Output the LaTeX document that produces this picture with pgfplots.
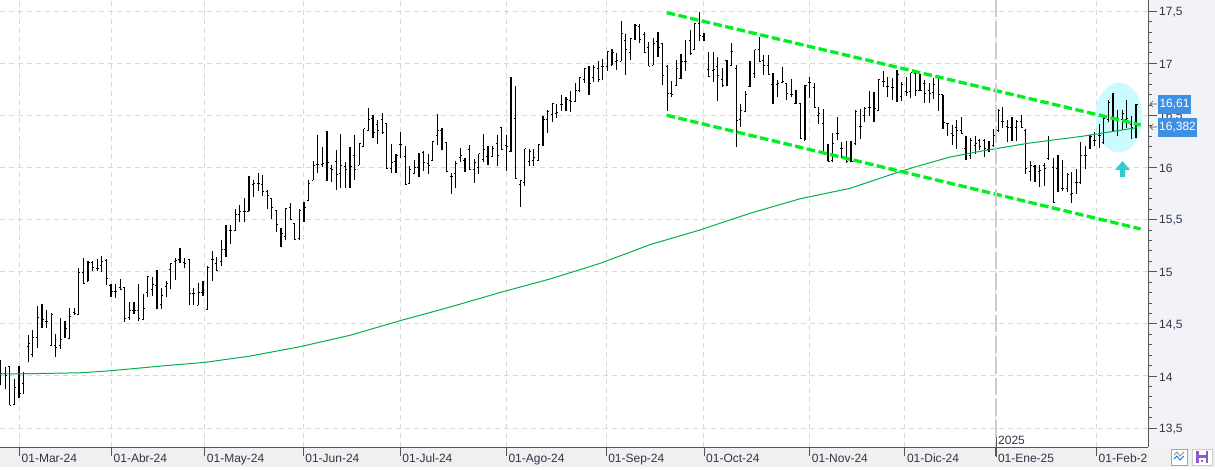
\documentclass[border=0pt]{standalone}
\usepackage{fontspec}
\setmainfont{Liberation Sans}
\usepackage{pgfplots}
\usepackage{pgfplotstable}
\pgfplotsset{compat=1.18}
\definecolor{gridc}{HTML}{D9D9D9}
\definecolor{panelr}{HTML}{F2F3F7}
\definecolor{panelb}{HTML}{F0F0F0}
\definecolor{axisc}{HTML}{555555}
\definecolor{textc}{HTML}{33334A}
\definecolor{channel}{HTML}{00EE22}
\definecolor{avg}{HTML}{00B050}
\definecolor{halo}{HTML}{CCFBFF}
\definecolor{uparrow}{HTML}{33CCCC}
\definecolor{pricebox}{HTML}{3F90E2}
\definecolor{floppy}{HTML}{8A5CC8}

\pgfplotstableread{
i h l o c
0 14.15 13.91 14.10 14.02
1 14.09 13.87 14.02 14.00
2 14.09 13.72 14.09 13.72
3 13.97 13.72 13.73 13.89
4 14.10 13.79 13.92 13.83
5 14.04 13.83 13.93 14.02
6 14.39 14.13 14.28 14.31
7 14.44 14.18 14.21 14.37
8 14.67 14.27 14.37 14.56
9 14.69 14.46 14.63 14.54
10 14.63 14.46 14.52 14.52
11 14.60 14.29 14.29 14.59
12 14.40 14.18 14.29 14.27
13 14.56 14.26 14.29 14.35
14 14.53 14.36 14.44 14.46
15 14.65 14.36 14.36 14.57
16 14.65 14.58 14.61 14.60
17 15.04 14.59 14.59 14.99
18 15.13 14.89 14.99 14.89
19 15.10 14.91 14.91 15.09
20 15.10 15.01 15.09 15.04
21 15.12 15.01 15.03 15.03
22 15.15 15.00 15.06 15.10
23 15.12 14.87 15.11 14.94
24 14.88 14.76 14.87 14.81
25 14.88 14.75 14.81 14.81
26 14.93 14.82 14.85 14.83
27 14.85 14.52 14.85 14.55
28 14.71 14.54 14.56 14.63
29 14.71 14.59 14.63 14.63
30 14.88 14.53 14.63 14.55
31 14.79 14.54 14.54 14.65
32 14.96 14.76 14.80 14.95
33 14.95 14.77 14.83 14.88
34 15.02 14.64 14.87 14.69
35 14.84 14.64 14.69 14.77
36 14.91 14.76 14.86 14.89
37 15.08 14.83 15.02 15.08
38 15.13 14.92 15.10 15.11
39 15.23 15.08 15.12 15.13
40 15.13 15.04 15.09 15.08
41 15.12 14.68 15.12 14.79
42 14.84 14.68 14.79 14.79
43 14.89 14.68 14.68 14.80
44 14.91 14.77 14.80 14.80
45 15.05 14.64 14.64 15.04
46 15.20 14.91 15.12 15.12
47 15.14 15.01 15.08 15.01
48 15.30 15.05 15.10 15.21
49 15.45 15.14 15.21 15.21
50 15.45 15.27 15.40 15.40
51 15.60 15.39 15.40 15.55
52 15.64 15.48 15.55 15.58
53 15.71 15.48 15.58 15.58
54 15.92 15.58 15.58 15.84
55 15.88 15.72 15.84 15.85
56 15.95 15.77 15.85 15.85
57 15.93 15.73 15.84 15.77
58 15.78 15.60 15.77 15.73
59 15.70 15.51 15.70 15.62
60 15.59 15.38 15.59 15.45
61 15.42 15.24 15.37 15.37
62 15.61 15.30 15.34 15.61
63 15.66 15.50 15.62 15.50
64 15.46 15.30 15.46 15.31
65 15.60 15.30 15.32 15.59
66 15.67 15.48 15.60 15.62
67 15.88 15.68 15.68 15.85
68 16.06 15.88 15.88 16.02
69 16.31 15.95 16.03 16.03
70 16.20 16.00 16.03 16.04
71 16.35 15.87 16.30 16.05
72 16.02 15.86 15.99 15.98
73 16.17 15.78 16.06 15.93
74 16.32 15.80 15.94 16.02
75 16.05 15.80 16.01 15.98
76 16.20 15.80 16.12 16.01
77 16.31 15.88 16.12 15.98
78 16.23 16.02 16.02 16.23
79 16.37 16.20 16.20 16.37
80 16.57 16.35 16.36 16.46
81 16.50 16.28 16.47 16.34
82 16.46 16.23 16.41 16.36
83 16.52 16.32 16.46 16.34
84 16.42 15.99 16.42 15.99
85 16.23 15.95 15.99 16.05
86 16.13 15.95 16.06 16.12
87 16.34 16.09 16.22 16.22
88 16.21 15.84 16.11 15.84
89 16.01 15.84 15.85 15.98
90 16.07 15.94 15.94 16.00
91 16.14 15.91 16.00 16.01
92 16.16 15.97 16.14 16.05
93 16.13 15.94 16.04 16.02
94 16.25 16.07 16.07 16.25
95 16.51 16.22 16.31 16.36
96 16.38 16.17 16.36 16.26
97 16.24 15.96 16.24 15.96
98 15.95 15.75 15.91 15.91
99 16.06 15.80 15.94 16.04
100 16.19 16.05 16.10 16.12
101 16.09 15.96 16.07 16.05
102 16.22 15.98 16.17 15.98
103 16.08 15.85 15.98 16.05
104 16.13 15.94 16.00 16.13
105 16.32 16.05 16.08 16.17
106 16.21 16.02 16.11 16.10
107 16.21 16.10 16.11 16.18
108 16.31 16.01 16.23 16.12
109 16.38 16.17 16.38 16.17
110 16.31 15.97 16.21 16.20
111 16.87 16.15 16.15 16.65
112 16.78 15.89 16.47 15.89
113 15.88 15.62 15.84 15.88
114 16.18 15.82 15.86 16.18
115 16.18 16.01 16.06 16.15
116 16.18 16.01 16.07 16.10
117 16.22 16.06 16.07 16.22
118 16.49 16.21 16.24 16.46
119 16.55 16.33 16.46 16.54
120 16.62 16.44 16.51 16.61
121 16.61 16.47 16.52 16.53
122 16.70 16.54 16.60 16.60
123 16.68 16.54 16.60 16.65
124 16.73 16.53 16.64 16.63
125 16.81 16.63 16.63 16.74
126 16.87 16.72 16.74 16.86
127 16.95 16.81 16.84 16.95
128 16.97 16.70 16.89 16.81
129 16.98 16.82 16.86 16.96
130 17.02 16.82 16.95 16.84
131 17.04 16.84 16.97 16.97
132 17.12 16.93 16.97 17.11
133 17.14 16.98 16.98 17.10
134 17.10 16.94 17.02 17.03
135 17.41 17.02 17.02 17.29
136 17.28 16.89 17.22 17.13
137 17.24 17.03 17.10 17.24
138 17.38 17.22 17.25 17.36
139 17.38 17.19 17.35 17.23
140 17.30 17.10 17.28 17.10
141 17.20 16.97 17.15 16.97
142 17.24 16.98 16.98 17.19
143 17.30 17.06 17.21 17.15
144 17.19 16.79 17.19 16.88
145 16.98 16.54 16.97 16.71
146 16.83 16.68 16.71 16.70
147 17.03 16.78 16.79 16.95
148 17.09 16.85 16.85 17.02
149 17.22 16.93 17.02 17.02
150 17.32 17.08 17.22 17.09
151 17.39 17.13 17.13 17.38
152 17.49 17.21 17.38 17.27
153 17.29 17.21 17.26 17.27
154 17.11 16.87 16.94 16.87
155 17.11 16.82 16.93 16.94
156 17.06 16.64 16.97 16.88
157 16.95 16.77 16.84 16.79
158 17.03 16.78 17.03 16.79
159 17.19 16.98 16.98 17.11
160 16.98 16.20 16.95 16.45
161 16.61 16.39 16.46 16.55
162 16.73 16.53 16.54 16.70
163 17.02 16.77 16.78 16.87
164 17.13 16.86 16.90 17.13
165 17.25 17.02 17.13 17.02
166 17.08 16.89 17.03 16.98
167 17.08 16.89 16.98 16.89
168 16.91 16.61 16.80 16.70
169 16.84 16.68 16.80 16.81
170 16.96 16.81 16.82 16.83
171 16.81 16.65 16.81 16.71
172 16.85 16.68 16.70 16.70
173 16.74 16.61 16.61 16.74
174 16.61 16.27 16.61 16.28
175 16.79 16.26 16.26 16.79
176 16.87 16.67 16.82 16.82
177 16.81 16.58 16.77 16.58
178 16.58 16.42 16.50 16.52
179 16.56 16.14 16.42 16.14
180 16.23 16.06 16.14 16.06
181 16.33 16.05 16.07 16.23
182 16.48 16.26 16.33 16.33
183 16.24 16.09 16.18 16.18
184 16.25 16.04 16.08 16.06
185 16.25 16.05 16.07 16.06
186 16.55 16.22 16.23 16.54
187 16.56 16.27 16.39 16.39
188 16.58 16.44 16.50 16.57
189 16.73 16.49 16.58 16.58
190 16.72 16.44 16.49 16.57
191 16.85 16.54 16.55 16.84
192 16.93 16.77 16.83 16.83
193 16.87 16.68 16.78 16.78
194 16.86 16.65 16.77 16.77
195 16.94 16.63 16.89 16.89
196 16.82 16.64 16.68 16.80
197 16.87 16.69 16.73 16.72
198 16.91 16.67 16.73 16.91
199 16.91 16.69 16.90 16.74
200 16.90 16.73 16.74 16.74
201 16.84 16.62 16.81 16.71
202 16.81 16.62 16.74 16.71
203 16.86 16.66 16.72 16.80
204 16.87 16.54 16.86 16.70
205 16.70 16.37 16.70 16.43
206 16.43 16.30 16.42 16.42
207 16.41 16.22 16.33 16.31
208 16.46 16.18 16.38 16.36
209 16.48 16.32 16.36 16.33
210 16.30 16.07 16.18 16.19
211 16.28 16.08 16.12 16.26
212 16.30 16.13 16.21 16.23
213 16.27 16.17 16.26 16.20
214 16.27 16.10 16.26 16.18
215 16.25 16.15 16.17 16.20
216 16.37 16.20 16.21 16.31
217 16.56 16.34 16.36 16.55
218 16.58 16.38 16.44 16.44
219 16.46 16.24 16.39 16.38
220 16.48 16.25 16.38 16.36
221 16.46 16.25 16.38 16.44
222 16.50 16.38 16.44 16.38
223 16.37 15.94 16.36 15.99
224 16.06 15.87 15.96 16.02
225 16.02 15.86 16.01 16.01
226 16.02 15.81 15.96 15.97
227 16.04 15.82 16.02 15.99
228 16.30 16.07 16.09 16.26
229 16.09 15.66 16.00 15.66
230 16.12 15.76 15.99 16.10
231 16.07 15.77 15.80 15.80
232 15.95 15.76 15.80 15.93
233 15.96 15.66 15.74 15.75
234 15.99 15.75 15.86 15.86
235 16.24 15.84 15.86 16.12
236 16.21 15.99 16.12 16.12
237 16.31 16.18 16.19 16.30
238 16.34 16.21 16.26 16.26
239 16.42 16.19 16.31 16.31
240 16.49 16.23 16.24 16.47
241 16.65 16.44 16.46 16.62
242 16.71 16.34 16.60 16.47
243 16.55 16.30 16.47 16.36
244 16.55 16.36 16.46 16.52
245 16.65 16.38 16.46 16.47
246 16.49 16.27 16.41 16.38
247 16.61 16.28 16.39 16.60
}\bars

\pgfplotstableread{
i p
-0.15 14.02
4 14.02
17.3 14.03
24 14.05
36.2 14.10
44.4 14.13
54.2 14.19
65.1 14.28
76 14.39
86.9 14.53
97.7 14.66
108.6 14.80
119.5 14.93
130.4 15.08
141.3 15.26
152.1 15.40
163 15.56
173.9 15.70
184.8 15.80
195.6 15.96
199.3 16.01
206.5 16.10
213.7 16.16
223.2 16.23
228.3 16.26
235.4 16.30
247.2 16.382
}\average

\begin{document}
\fontsize{12}{14}\selectfont
\begin{tikzpicture}[x=1pt,y=1pt]
\path[use as bounding box] (0,-22) rectangle (1215,447);
\fill[panelr] (1148,0) rectangle (1215,447);
\fill[panelb] (0,-20) rectangle (1215,0);
\begin{axis}[
  at={(0,0)},
  anchor=south west,
  scale only axis,
  width=1148pt,
  height=447pt,
  xmin=-0.15,
  xmax=249.6,
  ymin=13.318,
  ymax=17.607,
  axis x line*=bottom,
  axis y line*=right,
  axis line style={axisc,line width=1pt},
  tick align=outside,
  major tick length=9pt,
  minor tick length=4pt,
  tick style={axisc,line width=0.8pt},
  ytick={13.5,14,14.5,15,15.5,16,16.5,17,17.5},
  minor y tick num=4,
  xtick={4.1,24.1,44.4,65.8,86.9,110,131.7,153,176,196.7,216.5,238.4},
  xticklabels={01-Mar-24,01-Abr-24,01-May-24,01-Jun-24,01-Jul-24,01-Ago-24,01-Sep-24,01-Oct-24,01-Nov-24,01-Dic-24,01-Ene-25,01-Feb-2},
  x tick label style={anchor=north west,inner sep=0pt,xshift=2pt,yshift=2pt,text=textc},
  y tick label style={anchor=west,inner sep=0pt,xshift=2pt,yshift=-1pt,text=textc},
  /pgf/number format/use comma,
  /pgf/number format/assume math mode=true,
  ymajorgrids=true,
  xmajorgrids=true,
  major grid style={gridc,line width=1pt,dash pattern=on 5pt off 4pt},
  error bars/error mark=none,
]
\fill[halo] (axis cs:243.3,16.48) ellipse [x radius=23.5pt,y radius=35pt];
% high-low stems
\addplot[draw=none,mark=none,forget plot,
  error bars/.cd,y dir=plus,y explicit,error bar style={black,line width=1.2pt}]
  table[x=i,y=l,y error plus expr=\thisrow{h}-\thisrow{l}] {\bars};
% open ticks left, close ticks right
\addplot[draw=none,mark=none,forget plot,
  error bars/.cd,x dir=minus,x fixed=0.33,error bar style={black,line width=0.9pt}]
  table[x=i,y=o] {\bars};
\addplot[draw=none,mark=none,forget plot,
  error bars/.cd,x dir=plus,x fixed=0.33,error bar style={black,line width=0.9pt}]
  table[x=i,y=c] {\bars};
\addplot[avg,line width=1pt] table[x=i,y=p] {\average};
\addplot[channel,line width=3.3pt,dash pattern=on 8.5pt off 3.5pt] coordinates {(144.9,17.486) (248,16.408)};
\addplot[channel,line width=3.3pt,dash pattern=on 8.5pt off 3.5pt] coordinates {(144.9,16.501) (248,15.41)};
\end{axis}
% year marker
\draw[black!20,line width=1.2pt,dash pattern=on 17pt off 4pt] (996,10) -- (996,447);
\draw[axisc,line width=0.8pt] (996,-10) -- (996,10);
\node[anchor=south west,inner sep=0pt,text=textc] at (998,2) {2025};
% last price boxes
\fill[pricebox] (1158,333) rectangle (1191,352);
\node[text=white,inner sep=0pt] at (1174.5,342.5) {16,61};
\draw[axisc,line width=0.6pt] (1150,343) -- (1157,343) (1153,346) -- (1150,343) -- (1153,340);
\fill[pricebox] (1158,310) rectangle (1197,329);
\node[text=white,inner sep=0pt] at (1177.5,319.5) {16,382};
\draw[axisc,line width=0.6pt] (1150,320) -- (1157,320) (1153,323) -- (1150,320) -- (1153,317);
% up arrow
\fill[uparrow] (1122.5,286) -- (1130,277) -- (1125,277) -- (1125,270) -- (1120,270) -- (1120,277) -- (1115,277) -- cycle;
% corner buttons
\draw[gray!70,line width=1pt,fill=white] (1171,-18) rectangle (1187,-2);
\draw[black!45,line width=0.8pt] (1174,-8) -- (1177,-5) -- (1180,-9) -- (1184,-5);
\draw[blue!60!cyan,line width=0.8pt] (1174,-12) -- (1177,-9) -- (1180,-13) -- (1184,-9);
\draw[gray!40,line width=1pt,fill=white] (1192,-18) rectangle (1212,-2);
\fill[floppy] (1196,-16) rectangle (1208,-4);
\fill[white] (1198.5,-4) rectangle (1205.5,-8);
\fill[white] (1198.5,-16) rectangle (1205.5,-11);
\fill[floppy] (1201,-15) rectangle (1203,-13);
\end{tikzpicture}
\end{document}
